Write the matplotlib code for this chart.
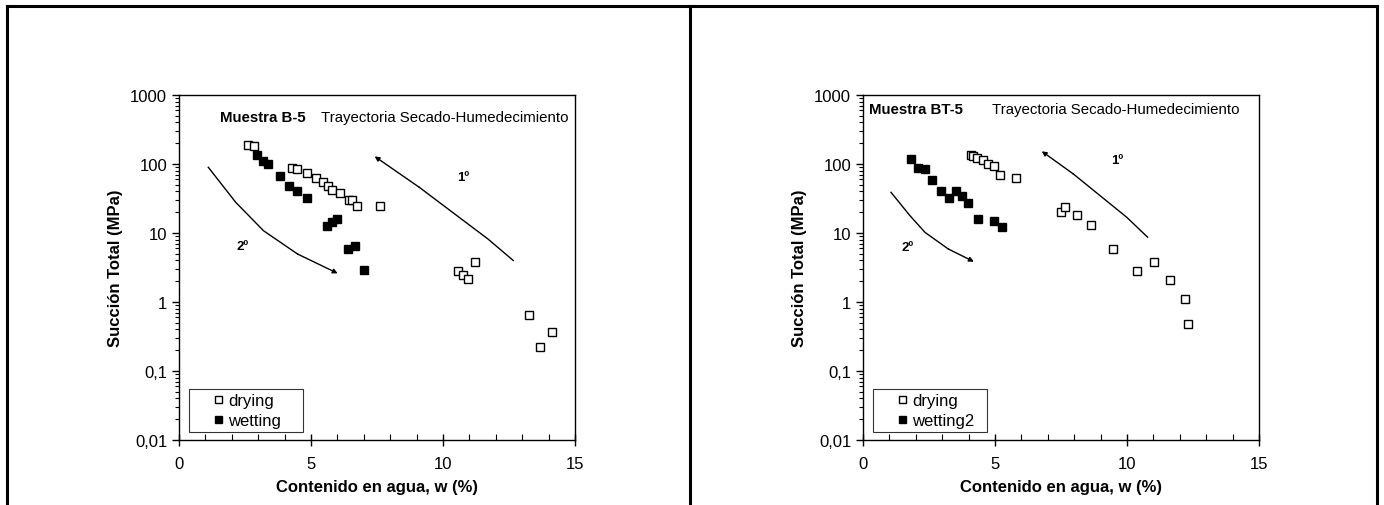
import matplotlib.pyplot as plt
from matplotlib.lines import Line2D
from matplotlib.ticker import LogLocator, NullFormatter
import numpy as np

plt.rcParams['font.family'] = ['Liberation Sans', 'DejaVu Sans']

# Muestra B-5
b5_dry_w = [2.62, 2.85, 4.28, 4.48, 4.86, 5.2, 5.46, 5.66, 5.81, 6.08, 6.43, 6.56, 6.74, 7.62,
            11.2, 10.58, 10.74, 10.96, 13.27, 14.14, 13.66]
b5_dry_s = [188, 185, 87, 85, 75, 62, 55, 48, 42, 37.6, 29.8, 29.8, 24.9, 24.9,
            3.76, 2.84, 2.49, 2.18, 0.65, 0.364, 0.225]
b5_wet_w = [2.94, 3.18, 3.38, 3.81, 4.17, 4.48, 4.86, 5.62, 5.81, 6.0, 6.39, 6.67, 7.01]
b5_wet_s = [136, 109, 101, 67.7, 48, 40, 31.8, 12.5, 14.3, 16, 5.86, 6.46, 2.94]
b5_first_w = [12.66, 11.7, 9.1, 7.41]
b5_first_s = [4.0, 8.2, 46, 129]
b5_second_w = [1.11, 2.15, 3.2, 4.49, 6.01]
b5_second_s = [89.6, 27.8, 10.8, 4.96, 2.6]

# Muestra BT-5
bt5_dry_w = [4.10, 4.18, 4.31, 4.56, 4.73, 4.96, 5.19, 5.81, 7.49, 7.64, 8.12, 8.62, 9.48,
             10.38, 11.03, 11.62, 12.21, 12.32]
bt5_dry_s = [135, 129, 124, 114, 99, 92.5, 70, 62.7, 20.4, 23.8, 18.4, 13.1, 5.9,
             2.78, 3.8, 2.11, 1.09, 0.485]
bt5_wet_w = [1.81, 2.07, 2.35, 2.63, 2.97, 3.25, 3.52, 3.75, 3.99, 4.37, 4.96, 5.28]
bt5_wet_s = [118, 88.5, 83.8, 58.6, 40.6, 31.8, 40.6, 34, 27.5, 16, 14.9, 12.1]
bt5_first_w = [10.78, 9.99, 7.97, 6.77]
bt5_first_s = [8.7, 16.9, 71.6, 153]
bt5_second_w = [1.06, 1.78, 2.35, 3.23, 4.2]
bt5_second_s = [38.9, 17.8, 10.2, 5.87, 3.84]

yticks = [0.01, 0.1, 1, 10, 100, 1000]
ytick_labels = ['0,01', '0,1', '1', '10', '100', '1000']
xticks = [0, 5, 10, 15]

fig = plt.figure(figsize=(13.84, 5.06), dpi=100)

# outer frames
for x in [7 / 1384, 690 / 1384, 1377 / 1384]:
    fig.add_artist(Line2D([x, x], [0, 1 - 7 / 506], color='black', lw=2.2))
fig.add_artist(Line2D([7 / 1384, 1377 / 1384], [1 - 7 / 506, 1 - 7 / 506], color='black', lw=2.2))

panels = [
    dict(left=179, dry=(b5_dry_w, b5_dry_s), wet=(b5_wet_w, b5_wet_s),
         first=(b5_first_w, b5_first_s), second=(b5_second_w, b5_second_s),
         name='Muestra B-5', name_x=1.55, name_y=480, traj_x=5.38,
         wet_label='wetting', lab1=(10.75, 64), lab2=(2.4, 6.5)),
    dict(left=863, dry=(bt5_dry_w, bt5_dry_s), wet=(bt5_wet_w, bt5_wet_s),
         first=(bt5_first_w, bt5_first_s), second=(bt5_second_w, bt5_second_s),
         name='Muestra BT-5', name_x=0.22, name_y=620, traj_x=4.89,
         wet_label='wetting2', lab1=(9.61, 114), lab2=(1.69, 6.3)),
]

for p in panels:
    ax = fig.add_axes([p['left'] / 1384, 1 - 441 / 506, 396 / 1384, 345 / 506])
    ax.set_yscale('log')
    ax.set_xlim(0, 15)
    ax.set_ylim(0.01, 1000)

    ax.plot(*p['dry'], 's', ms=6.3, mfc='white', mec='black', mew=1.0, label='drying')
    ax.plot(*p['wet'], 's', ms=6.3, mfc='black', mec='black', mew=1.0, label=p['wet_label'])

    for w, s in [p['first'], p['second']]:
        ax.plot(w[:-1], s[:-1], color='black', lw=1.0)
        ax.annotate('', xy=(w[-1], s[-1]), xytext=(w[-2], s[-2]),
                    arrowprops=dict(arrowstyle='-|>', color='black', lw=1.0,
                                    mutation_scale=7, shrinkA=0, shrinkB=0))

    ax.text(*p['lab1'], '1º', fontsize=9.5, fontweight='bold', ha='center', va='center')
    ax.text(*p['lab2'], '2º', fontsize=9.5, fontweight='bold', ha='center', va='center')

    ax.text(p['name_x'], p['name_y'], p['name'], fontsize=10.8, fontweight='bold', va='center')
    ax.text(p['traj_x'], p['name_y'], 'Trayectoria Secado-Humedecimiento', fontsize=10.8,
            va='center')

    ax.set_yticks(yticks)
    ax.set_yticklabels(ytick_labels)
    ax.yaxis.set_minor_locator(LogLocator(base=10, subs=np.arange(2, 10)))
    ax.yaxis.set_minor_formatter(NullFormatter())
    ax.set_xticks(xticks)
    ax.set_xticks(range(0, 16), minor=True)
    ax.tick_params(axis='y', which='major', direction='out', length=5, width=1, labelsize=12)
    ax.tick_params(axis='y', which='minor', direction='out', length=3, width=0.8)
    ax.tick_params(axis='x', which='major', direction='inout', length=9, width=1, labelsize=12,
                   pad=7)
    ax.tick_params(axis='x', which='minor', direction='in', length=4, width=0.8)
    for sp in ax.spines.values():
        sp.set_linewidth(1.0)

    ax.set_xlabel('Contenido en agua, w (%)', fontsize=12, fontweight='bold', labelpad=6)
    ax.set_ylabel('Succión Total (MPa)', fontsize=12, fontweight='bold', labelpad=5)

    leg = ax.legend(loc='lower left', bbox_to_anchor=(0.025, 0.023, 0.288, 0.13),
                    mode='expand', borderaxespad=0, fontsize=12, frameon=True,
                    fancybox=False, edgecolor='black', handlelength=3.0, handletextpad=-0.9,
                    labelspacing=0.3, borderpad=0.25, markerscale=0.8)
    leg.get_frame().set_linewidth(0.8)

plt.savefig('out.png', dpi=100)
